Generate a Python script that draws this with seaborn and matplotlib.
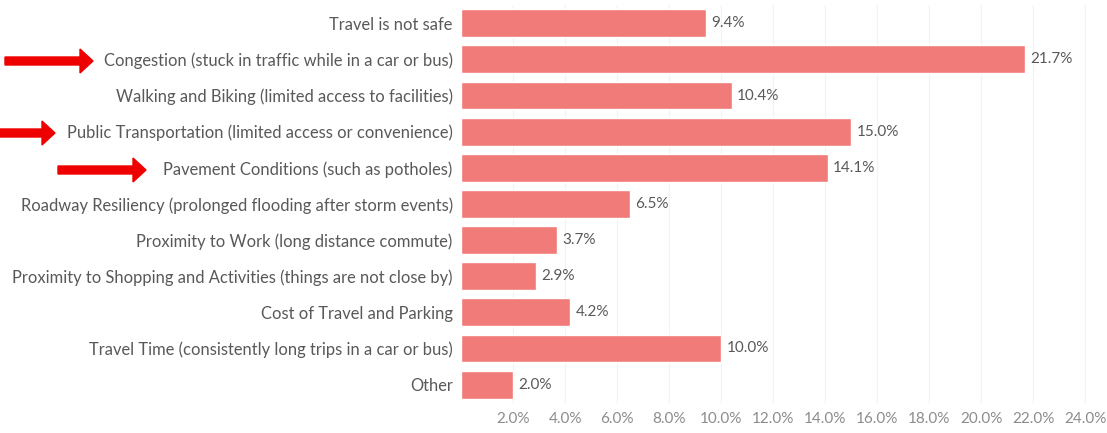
import numpy as np
import pandas as pd
import matplotlib
matplotlib.use("Agg")
import matplotlib.pyplot as plt
import seaborn as sns
from matplotlib.patches import FancyArrow

categories = [
    "Travel is not safe",
    "Congestion (stuck in traffic while in a car or bus)",
    "Walking and Biking (limited access to facilities)",
    "Public Transportation (limited access or convenience)",
    "Pavement Conditions (such as potholes)",
    "Roadway Resiliency (prolonged flooding after storm events)",
    "Proximity to Work (long distance commute)",
    "Proximity to Shopping and Activities (things are not close by)",
    "Cost of Travel and Parking",
    "Travel Time (consistently long trips in a car or bus)",
    "Other",
]
values = [9.4, 21.7, 10.4, 15.0, 14.1, 6.5, 3.7, 2.9, 4.2, 10.0, 2.0]
xticks = [2, 4, 6, 8, 10, 12, 14, 16, 18, 20, 22, 24]

df = pd.DataFrame({"category": categories, "value": values})

sns.set_style("white")
plt.rcParams["font.family"] = ["Lato", "DejaVu Sans"]
text_color = "#595959"
bar_color = "#F07B78"

fig = plt.figure(figsize=(11.07, 4.33), dpi=100)
ax = fig.add_axes([0.4165, 0.07, 0.578, 0.918])

sns.barplot(data=df, x="value", y="category", color=bar_color,
            saturation=1, width=0.77, ax=ax)

for i, v in enumerate(values):
    ax.text(v + 0.2, i, f"{v:.1f}%", va="center", ha="left",
            fontsize=11, color=text_color)

ax.set_xlim(0, 24.6)
ax.set_xticks(xticks)
ax.set_xticklabels([f"{t:.1f}%" for t in xticks], color="#8c8c8c", fontsize=11)
ax.tick_params(axis="y", length=0, labelsize=11.9, labelcolor=text_color, pad=6)
ax.tick_params(axis="x", length=0, pad=7)
ax.set_xlabel("")
ax.set_ylabel("")
ax.grid(axis="x", color="#f2f2f2", linewidth=0.8)
ax.set_axisbelow(True)
for s in ax.spines.values():
    s.set_visible(False)

# red arrows pointing at the highlighted labels (figure pixel coords)
arrows = [(5, 93, 61), (0, 55, 133), (58, 146, 170)]
W, H = 1107, 433
for x0, x1, y in arrows:
    fy = 1 - y / H
    fig.patches.append(FancyArrow(x0 / W, fy, (x1 - x0) / W, 0,
                                  width=8 / H, head_width=24 / H,
                                  head_length=13 / W, length_includes_head=True,
                                  color="#ee0000", transform=fig.transFigure,
                                  figure=fig))

fig.savefig("out.png", dpi=100)
